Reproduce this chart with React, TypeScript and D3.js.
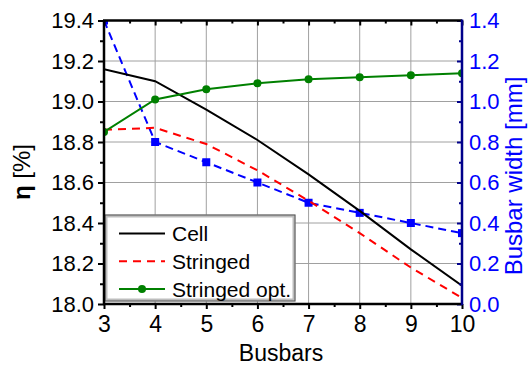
import { useEffect, useRef } from "react";
import * as d3 from "d3";

const busbars = [3, 4, 5, 6, 7, 8, 9, 10];
const cell = [19.16, 19.1, 18.96, 18.81, 18.64, 18.46, 18.27, 18.09];
const stringed = [18.86, 18.87, 18.79, 18.66, 18.51, 18.35, 18.18, 18.03];
const stringedOpt = [18.85, 19.01, 19.06, 19.09, 19.11, 19.12, 19.13, 19.14];
const busbarWidth = [1.4, 0.8, 0.7, 0.6, 0.5, 0.45, 0.4, 0.35];

const etaTicks = [18.0, 18.2, 18.4, 18.6, 18.8, 19.0, 19.2, 19.4];
const widthTicks = [0, 0.2, 0.4, 0.6, 0.8, 1.0, 1.2, 1.4];

export default function App() {
  const ref = useRef<SVGSVGElement>(null);

  useEffect(() => {
    if (!ref.current) return;
    const svg = d3.select(ref.current);
    svg.selectAll("*").remove();

    const width = 530;
    const height = 368;
    const m = { left: 104, right: 462, top: 20.5, bottom: 304 };
    const font = "'Liberation Sans', Arial, sans-serif";

    svg.attr("width", width).attr("height", height);

    const x = d3.scaleLinear().domain([3, 10]).range([m.left, m.right]);
    const yL = d3.scaleLinear().domain([18, 19.4]).range([m.bottom, m.top]);
    const yR = d3.scaleLinear().domain([0, 1.4]).range([m.bottom, m.top]);

    svg.append("defs").append("clipPath").attr("id", "plot-clip")
      .append("rect")
      .attr("x", m.left).attr("y", m.top)
      .attr("width", m.right - m.left).attr("height", m.bottom - m.top);

    // grid
    const grid = svg.append("g").attr("stroke", "#a0a0a0").attr("stroke-width", 1);
    busbars.forEach((b) => {
      grid.append("line").attr("x1", x(b)).attr("x2", x(b)).attr("y1", m.top).attr("y2", m.bottom);
    });
    etaTicks.forEach((t) => {
      grid.append("line").attr("x1", m.left).attr("x2", m.right).attr("y1", yL(t)).attr("y2", yL(t));
    });

    const plot = svg.append("g").attr("clip-path", "url(#plot-clip)");

    const lineL = d3.line<number>().x((_, i) => x(busbars[i])).y((d) => yL(d));
    const lineR = d3.line<number>().x((_, i) => x(busbars[i])).y((d) => yR(d));

    plot.append("path").attr("d", lineR(busbarWidth)).attr("fill", "none")
      .attr("stroke", "#0000ff").attr("stroke-width", 2).attr("stroke-dasharray", "8,5");
    plot.selectAll(".sq").data(busbarWidth).join("rect")
      .attr("x", (_, i) => x(busbars[i]) - 4).attr("y", (d) => yR(d) - 4)
      .attr("width", 8).attr("height", 8).attr("fill", "#0000ff");

    plot.append("path").attr("d", lineL(cell)).attr("fill", "none")
      .attr("stroke", "#000").attr("stroke-width", 2);
    plot.append("path").attr("d", lineL(stringed)).attr("fill", "none")
      .attr("stroke", "#ff0000").attr("stroke-width", 2).attr("stroke-dasharray", "8,6");
    plot.append("path").attr("d", lineL(stringedOpt)).attr("fill", "none")
      .attr("stroke", "#008000").attr("stroke-width", 2);
    plot.selectAll(".dot").data(stringedOpt).join("circle")
      .attr("cx", (_, i) => x(busbars[i])).attr("cy", (d) => yL(d))
      .attr("r", 4).attr("fill", "#008000");

    // legend
    const lg = svg.append("g");
    lg.append("rect").attr("x", 106).attr("y", 216).attr("width", 188).attr("height", 84)
      .attr("fill", "#fff").attr("stroke", "#bdbdbd").attr("stroke-width", 3);
    lg.append("rect").attr("x", 105).attr("y", 215).attr("width", 190).attr("height", 86)
      .attr("fill", "none").attr("stroke", "#555").attr("stroke-width", 1);
    const items = [
      { label: "Cell", color: "#000", dash: null, dot: false },
      { label: "Stringed", color: "#ff0000", dash: "8,6", dot: false },
      { label: "Stringed opt.", color: "#008000", dash: null, dot: true },
    ];
    items.forEach((it, i) => {
      const yy = 233.5 + i * 27.8;
      lg.append("line").attr("x1", 119).attr("x2", 165).attr("y1", yy).attr("y2", yy)
        .attr("stroke", it.color).attr("stroke-width", 2)
        .attr("stroke-dasharray", it.dash);
      if (it.dot) lg.append("circle").attr("cx", 142).attr("cy", yy).attr("r", 4).attr("fill", it.color);
      lg.append("text").attr("x", 172).attr("y", yy + 7.5).attr("font-family", font)
        .attr("font-size", 21).attr("fill", "#000").text(it.label);
    });

    const minor = (ticks: number[], step: number) => {
      const out: number[] = [];
      for (let i = 0; i < ticks.length - 1; i++) out.push(+(ticks[i] + step).toFixed(3));
      return out;
    };

    const style = (g: d3.Selection<SVGGElement, unknown, null, undefined>, color: string, size = 22) => {
      g.select(".domain").remove();
      g.selectAll("line").attr("stroke", color).attr("stroke-width", 2);
      g.selectAll("text").attr("font-family", font).attr("font-size", size).attr("fill", color);
    };

    // left axis
    const gL = svg.append("g").attr("transform", `translate(${m.left},0)`)
      .call(d3.axisLeft(yL).tickValues(etaTicks).tickFormat(d3.format(".1f")).tickSize(6).tickPadding(4));
    style(gL, "#000");
    const gLm = svg.append("g").attr("transform", `translate(${m.left},0)`)
      .call(d3.axisLeft(yL).tickValues(minor(etaTicks, 0.1)).tickFormat(() => "").tickSize(4));
    style(gLm, "#000");

    // bottom axis
    const gB = svg.append("g").attr("transform", `translate(0,${m.bottom})`)
      .call(d3.axisBottom(x).tickValues(busbars).tickFormat(d3.format("d")).tickSize(5).tickPadding(7));
    style(gB, "#000", 23);
    const gBm = svg.append("g").attr("transform", `translate(0,${m.bottom})`)
      .call(d3.axisBottom(x).tickValues(minor(busbars, 0.5)).tickFormat(() => "").tickSize(3));
    style(gBm, "#000");

    // top axis (inward ticks)
    const gT = svg.append("g").attr("transform", `translate(0,${m.top})`)
      .call(d3.axisTop(x).tickValues(busbars).tickFormat(() => "").tickSize(-5));
    style(gT, "#000");
    const gTm = svg.append("g").attr("transform", `translate(0,${m.top})`)
      .call(d3.axisTop(x).tickValues(minor(busbars, 0.5)).tickFormat(() => "").tickSize(-3));
    style(gTm, "#000");

    // right axis (inward ticks)
    const gR = svg.append("g").attr("transform", `translate(${m.right},0)`)
      .call(d3.axisRight(yR).tickValues(widthTicks).tickFormat(d3.format(".1f")).tickSizeInner(-5).tickSizeOuter(0).tickPadding(7));
    style(gR, "#0000ff");
    gR.selectAll("line").attr("stroke", "#00008b");
    const gRm = svg.append("g").attr("transform", `translate(${m.right},0)`)
      .call(d3.axisRight(yR).tickValues(minor(widthTicks, 0.1)).tickFormat(() => "").tickSizeInner(-3).tickSizeOuter(0));
    style(gRm, "#00008b");

    // frame
    svg.append("line").attr("x1", m.left).attr("x2", m.left).attr("y1", m.top).attr("y2", m.bottom + 1)
      .attr("stroke", "#000").attr("stroke-width", 2.5);
    svg.append("line").attr("x1", m.left - 1).attr("x2", m.right).attr("y1", m.bottom).attr("y2", m.bottom)
      .attr("stroke", "#000").attr("stroke-width", 2.5);
    svg.append("line").attr("x1", m.left - 1).attr("x2", m.right).attr("y1", m.top).attr("y2", m.top)
      .attr("stroke", "#000").attr("stroke-width", 2.5);
    svg.append("line").attr("x1", m.right).attr("x2", m.right).attr("y1", m.top - 1).attr("y2", m.bottom + 1)
      .attr("stroke", "#00008b").attr("stroke-width", 2.5);

    // titles
    svg.append("text").attr("x", 281).attr("y", 361)
      .attr("text-anchor", "middle").attr("font-family", font).attr("font-size", 23)
      .attr("fill", "#000").text("Busbars");

    const tl = svg.append("text").attr("transform", "translate(30,172) rotate(-90)")
      .attr("text-anchor", "middle").attr("font-family", font).attr("font-size", 24).attr("fill", "#000");
    tl.append("tspan").attr("font-weight", "bold").text("η");
    tl.append("tspan").text(" [%]");

    svg.append("text").attr("transform", "translate(522,176) rotate(-90)")
      .attr("text-anchor", "middle").attr("font-family", font).attr("font-size", 24)
      .attr("fill", "#0000ff").text("Busbar width [mm]");
  }, []);

  return (
    <svg ref={ref} style={{ position: "absolute", left: 0, top: 0, display: "block" }}></svg>
  );
}
